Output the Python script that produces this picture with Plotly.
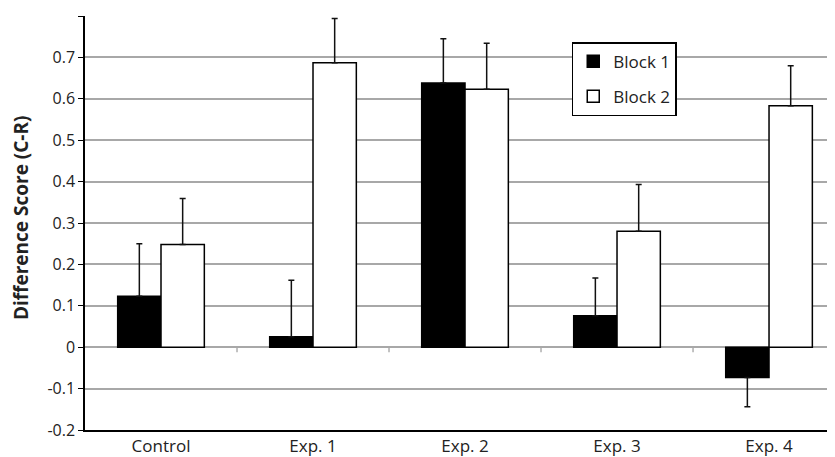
import plotly.graph_objects as go

categories = ["Control", "Exp. 1", "Exp. 2", "Exp. 3", "Exp. 4"]
block1 = [0.123, 0.025, 0.638, 0.076, -0.073]
block1_err_up = [0.127, 0.137, 0.107, 0.091, 0.0]
block1_err_down = [0.0, 0.0, 0.0, 0.0, 0.071]
block2 = [0.248, 0.687, 0.623, 0.280, 0.583]
block2_err_up = [0.111, 0.107, 0.111, 0.113, 0.097]
yticks = [-0.2, -0.1, 0, 0.1, 0.2, 0.3, 0.4, 0.5, 0.6, 0.7, 0.8]
ytick_labels = ["-0.2", "-0.1", "0", "0.1", "0.2", "0.3", "0.4", "0.5", "0.6", "0.7", "0.8"]
y_title = "Difference Score (C-R)"

font_family = "Open Sans, Noto Sans, sans-serif"

fig = go.Figure()
fig.add_trace(go.Bar(
    name="Block 1", x=categories, y=block1, legendgroup="b1",
    marker=dict(color="black", line=dict(color="black", width=1.5)),
    error_y=dict(type="data", symmetric=False, array=block1_err_up,
                 arrayminus=block1_err_down, color="#111111", thickness=1.5, width=3),
))
fig.add_trace(go.Bar(
    name="Block 2", x=categories, y=block2, legendgroup="b2",
    marker=dict(color="white", line=dict(color="black", width=1.5)),
    error_y=dict(type="data", symmetric=False, array=block2_err_up,
                 arrayminus=[0] * len(block2), color="#111111", thickness=1.5, width=3),
))

# small category separator ticks on the zero line
for i in range(len(categories) - 1):
    fig.add_shape(type="line", xref="x", yref="y", x0=i + 0.5, x1=i + 0.5,
                  y0=0, y1=-0.012, line=dict(color="#9a9a9a", width=1.2), layer="below")

fig.add_annotation(text="<b>" + y_title + "</b>", xref="paper", yref="paper",
                   x=-0.0853, y=0.512, xanchor="center", yanchor="middle",
                   textangle=-90, showarrow=False,
                   font=dict(size=19, color="#222222", family=font_family))

fig.update_layout(
    width=827, height=449,
    margin=dict(l=77, r=0, t=8, b=27),
    paper_bgcolor="white", plot_bgcolor="white",
    barmode="group", bargap=0.43, bargroupgap=0,
    font=dict(family=font_family, color="#222222"),
    showlegend=True,
    legend=dict(x=0.649, y=0.937, xanchor="left", yanchor="top",
                bgcolor="white", bordercolor="black", borderwidth=1.5,
                font=dict(size=17, color="#222222"), traceorder="grouped",
                tracegroupgap=10, itemwidth=30),
    xaxis=dict(range=[-0.5, 4.434], showgrid=False, showline=True,
               linecolor="black", linewidth=1.5, ticks="",
               tickfont=dict(size=17, color="#222222"), zeroline=False),
    yaxis=dict(range=[-0.2, 0.8], tickvals=yticks, ticktext=ytick_labels,
               showgrid=True, gridcolor="#a8a8a8", gridwidth=1.5,
               zeroline=True, zerolinecolor="#a8a8a8", zerolinewidth=1.5,
               showline=True, linecolor="black", linewidth=1.5,
               ticks="outside", ticklen=5, tickcolor="black", tickwidth=1.2,
               tickfont=dict(size=16, color="#222222")),
)

fig.write_html("out.html")
